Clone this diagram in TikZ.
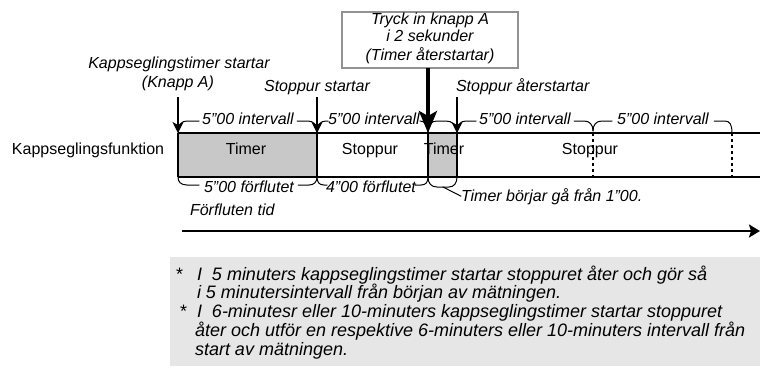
\documentclass[tikz,border=0pt]{standalone}
\usepackage{fontspec}
\setmainfont{Liberation Sans}
\usetikzlibrary{arrows.meta}
\definecolor{boxgray}{HTML}{C8C8C8}
\definecolor{notegray}{HTML}{E6E6E6}
\definecolor{framegray}{HTML}{929292}
\begin{document}
\begin{tikzpicture}[x=1pt,y=-1pt,
  every node/.style={inner sep=0pt, outer sep=0pt, font=\fontsize{16}{19}\selectfont},
  lbl/.style={font=\fontsize{16}{19}\selectfont\itshape},
  upl/.style={font=\fontsize{16}{19}\selectfont},
  note/.style={font=\fontsize{18}{19}\selectfont\itshape},
  notestar/.style={font=\fontsize{18}{19}\selectfont},
  thinarrow/.style={line width=1.3pt, -{Stealth[length=11pt,width=11pt,inset=3pt]}},
  bigarrow/.style={line width=3.6pt, -{Stealth[length=22pt,width=18pt,inset=5pt]}},
  bracket/.style={line width=1pt, line cap=round},
  edge/.style={line width=1.3pt},
  dotline/.style={line width=1.6pt, dash pattern=on 3pt off 3pt}]
\useasboundingbox (0,0) rectangle (760,369);

% key coordinates
\coordinate (t0) at (178,133); \coordinate (t1) at (317,133);
\coordinate (t2) at (428,133); \coordinate (t3) at (457,133);
\coordinate (d1) at (593,133); \coordinate (d2) at (732,133);
\coordinate (tend) at (760,133);
\coordinate (b0) at (178,177); \coordinate (b1) at (317,177);
\coordinate (b2) at (428,177); \coordinate (b3) at (457,177);
\coordinate (e1) at (593,177); \coordinate (e2) at (732,177);
\coordinate (bend) at (760,177);

% footnote box
\fill[notegray] (170,257) rectangle (760,366);

% gray timer blocks
\fill[boxgray] (t0) rectangle (b1);
\fill[boxgray] (t2) rectangle (b3);

% band lines
\draw[edge] (t0) -- (tend);
\draw[line width=2.2pt] (b0) -- (bend);
\draw[line width=2pt] (t0) -- (b0);
\draw[edge] (t1) -- (b1);
\draw[edge] (t2) -- (b2);
\draw[edge] (t3) -- (b3);
\draw[dotline] (d1) -- (e1);
\draw[dotline] (d2) -- (e2);

% band texts
\node[upl, anchor=base west] (func) at (12,154) {Kappseglingsfunktion};
\node[upl, anchor=base] (tim1) at (246,154) {Timer};
\node[upl, anchor=base] (sto1) at (370,154) {Stoppur};
\node[upl, anchor=base] (tim2) at (444,154) {Timer};
\node[upl, anchor=base] (sto2) at (590,154) {Stoppur};

% top labels
\node[lbl, anchor=base] (kst) at (179,69) {Kappseglingstimer startar};
\node[lbl, anchor=base] (kna) at (178,87) {(Knapp A)};
\node[lbl, anchor=base] (sst) at (317,92) {Stoppur startar};
\node[lbl, anchor=base west] (sat) at (456,92) {Stoppur återstartar};

% box
\node[draw=framegray, line width=2pt, minimum width=176pt, minimum height=56pt] (box) at (430,40) {};
\node[lbl, anchor=base] (bx1) at (430,25) {Tryck in knapp A};
\node[lbl, anchor=base] (bx2) at (430,42) {i 2 sekunder};
\node[lbl, anchor=base] (bx3) at (430,60) {(Timer återstartar)};

% interval labels (top)
\node[lbl, anchor=base] (i1) at (248,124) {5”00 intervall};
\node[lbl, anchor=base] (i2) at (374,124) {5”00 intervall};
\node[lbl, anchor=base] (i3) at (525,124) {5”00 intervall};
\node[lbl, anchor=base] (i4) at (663,124) {5”00 intervall};

% top brackets
\draw[bracket] (t0) .. controls (178,125) and (181,121) .. (187,121) -- (199,121);
\draw[bracket] (297,121) -- (308,121) .. controls (314,121) and (317,125) .. (t1);
\draw[bracket] (t1) .. controls (317,125) and (320,121) .. (326,121) -- (328,121);
\draw[bracket] (420,121) .. controls (425,121) and (428,125) .. (t2);
\draw[bracket] (t2) .. controls (428,125) and (431,121) .. (437,121) -- (446,121) .. controls (452,121) and (457,125) .. (t3);
\draw[bracket] (t3) .. controls (457,125) and (460,121) .. (466,121) -- (476,121);
\draw[bracket] (574,121) -- (584,121) .. controls (590,121) and (593,125) .. (593,131);
\draw[bracket] (593,131) .. controls (593,125) and (596,121) .. (602,121) -- (612,121);
\draw[bracket] (714,121) -- (725,121) .. controls (730,121) and (732,125) .. (d2);

% arrows
\coordinate (a0) at (178,97); \coordinate (a1) at (317,97); \coordinate (a3) at (457,97);
\draw[thinarrow] (a0) -- (t0);
\draw[thinarrow] (a1) -- (t1);
\draw[thinarrow] (a3) -- (t3);
\draw[bigarrow] (box.south -| t2) -- (t2);

% bottom labels
\node[lbl, anchor=base] (f1) at (249,192.5) {5”00 förflutet};
\node[lbl, anchor=base] (f2) at (371,192.5) {4”00 förflutet};
\node[lbl, anchor=base west] (tb) at (461,201) {Timer börjar gå från 1”00.};

% bottom brackets
\draw[bracket] (b0) .. controls (178,182) and (181,185) .. (187,185) -- (199,185);
\draw[bracket] (298,185) -- (309,185) .. controls (314,185) and (317,182) .. (b1);
\draw[bracket] (b1) .. controls (317,182) and (319,185) .. (324,185) -- (327,185);
\draw[bracket] (415,185) -- (421,185) .. controls (426,185) and (428,182) .. (b2);
\draw[bracket] (b2) .. controls (428,183) and (431,187) .. (437,187) -- (449,187) .. controls (454,187) and (457,183) .. (b3);
\coordinate (u0) at (443,187);
\draw[bracket] (u0) -- (tb.west);

% elapsed time
\node[lbl, anchor=base west] (ft) at (190,215) {Förfluten tid};
\coordinate (ts) at (182,231); \coordinate (te) at (760,231);
\draw[line width=2pt, -{Stealth[length=11pt,width=13pt,inset=2pt]}] (ts) -- (te);

% footnotes
\node[notestar, anchor=base west] (s1) at (176,280) {*};
\node[note, anchor=base west] (n1) at (197,280) {I\ \ 5 minuters kappseglingstimer startar stoppuret åter och gör så};
\node[note, anchor=base west] (n2) at (197,298.5) {i 5 minutersintervall från början av mätningen.};
\node[notestar, anchor=base west] (s2) at (180,317) {*};
\node[note, anchor=base west] (n3) at (197,317) {I\ \ 6-minutesr eller 10-minuters kappseglingstimer startar stoppuret};
\node[note, anchor=base west] (n4) at (195,336) {åter och utför en respektive 6-minuters eller 10-minuters intervall från};
\node[note, anchor=base west] (n5) at (195,355) {start av mätningen.};
\end{tikzpicture}
\end{document}
